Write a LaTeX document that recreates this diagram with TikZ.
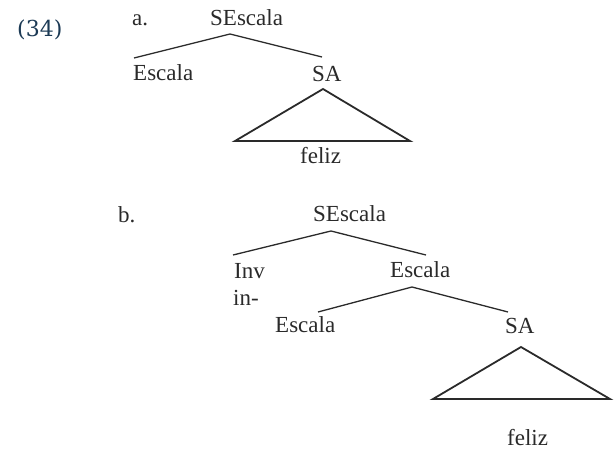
\documentclass[tikz,border=0pt]{standalone}
\usepackage{fontspec}
\setmainfont{Liberation Serif}
\newfontfamily\numfont{DejaVu Serif}
\definecolor{navy}{HTML}{1C3A55}
\definecolor{ink}{HTML}{2A2A2A}
\begin{document}
\begin{tikzpicture}[x=1pt,y=-1pt,
  lab/.style={inner sep=0pt,anchor=base west,text=ink,font=\fontsize{23}{25}\selectfont},
  branch/.style={draw=ink,line width=1.3pt},
  tri/.style={draw=ink,line width=1.8pt,line join=miter}]
\useasboundingbox (0,0) rectangle (616,450);
\node[inner sep=0pt,anchor=base west,text=navy,font=\numfont\fontsize{22}{24}\selectfont] (num) at (17,36) {(34)};
% tree a
\node[lab] (la) at (132,25) {a.};
\node[lab] (aroot) at (210,25) {SEscala};
\node[lab] (aesc) at (133,80) {Escala};
\node[lab] (asa) at (312,81) {SA};
\node[lab] (afel) at (300,163) {feliz};
\coordinate (aapex) at (230,34);
\coordinate (aL) at (134,58);
\coordinate (aR) at (322,57);
\draw[branch] (aL) -- (aapex) -- (aR);
\coordinate (atop) at (323,89);
\coordinate (atl) at (235,141);
\coordinate (atr) at (410,141);
\draw[tri] (atop) -- (atl) -- (atr) -- cycle;
% tree b
\node[lab] (lb) at (118,222) {b.};
\node[lab] (broot) at (313,221) {SEscala};
\node[lab] (binv) at (234,278) {Inv};
\node[lab] (bin) at (233,305) {in-};
\node[lab] (besc) at (390,277) {Escala};
\node[lab] (bescl) at (275,332) {Escala};
\node[lab] (bsa) at (505,333) {SA};
\node[lab] (bfel) at (507,445) {feliz};
\coordinate (bapex) at (331,231);
\coordinate (bL) at (233,255);
\coordinate (bR) at (426,255);
\draw[branch] (bL) -- (bapex) -- (bR);
\coordinate (bapex2) at (412,287);
\coordinate (bL2) at (318,312);
\coordinate (bR2) at (508,312);
\draw[branch] (bL2) -- (bapex2) -- (bR2);
\coordinate (btop) at (521,347);
\coordinate (btl) at (433,399);
\coordinate (btr) at (610,399);
\draw[tri] (btop) -- (btl) -- (btr) -- cycle;
\end{tikzpicture}
\end{document}
